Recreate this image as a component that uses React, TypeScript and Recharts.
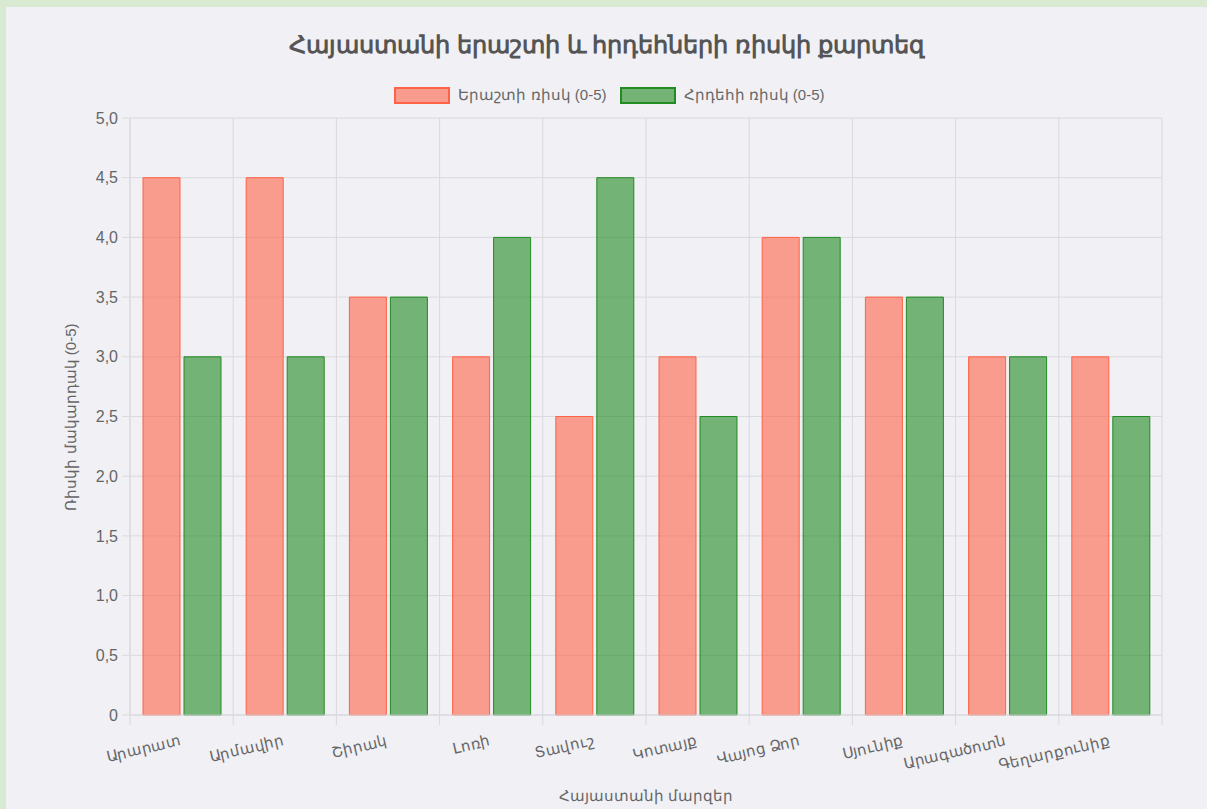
import React from "react";
import { BarChart, Bar, XAxis, YAxis, CartesianGrid } from "recharts";

const regions = ["Արարատ", "Արմավիր", "Շիրակ", "Լոռի", "Տավուշ", "Կոտայք", "Վայոց Ձոր", "Սյունիք", "Արագածոտն", "Գեղարքունիք"];
const droughtRisk = [4.5, 4.5, 3.5, 3, 2.5, 3, 4, 3.5, 3, 3];
const fireRisk = [3, 3, 3.5, 4, 4.5, 2.5, 4, 3.5, 3, 2.5];
const yTicks = [0, 0.5, 1, 1.5, 2, 2.5, 3, 3.5, 4, 4.5, 5];

const TITLE = "Հայաստանի երաշտի և հրդեհների ռիսկի քարտեզ";
const DROUGHT_LABEL = "Երաշտի ռիսկ (0-5)";
const FIRE_LABEL = "Հրդեհի ռիսկ (0-5)";
const Y_TITLE = "Ռիսկի մակարդակ (0-5)";
const X_TITLE = "Հայաստանի մարզեր";

const data = regions.map((name, i) => ({ name, drought: droughtRisk[i], fire: fireRisk[i] }));

const FONT = '"Helvetica Neue", Helvetica, Arial, sans-serif';
const GRID = "#d9d9de";
const TEXT = "#666";
const RED_FILL = "rgba(255,99,71,0.6)";
const RED_LINE = "rgb(255,99,71)";
const GREEN_FILL = "rgba(34,139,34,0.6)";
const GREEN_LINE = "rgb(34,139,34)";

const W = 1207;
const H = 809;
const M_LEFT = 70;
const Y_W = 60;
const M_RIGHT = 45;
const M_TOP = 118;
const X_H = 94;
const PLOT_W = W - M_LEFT - Y_W - M_RIGHT;
const BAND = PLOT_W / regions.length;

const fmt = (v: number) => (v === 0 ? "0" : v.toFixed(1).replace(".", ","));

const XTick = (props: any) => {
  const { x, y, payload, index } = props;
  const ty = y + 30;
  return (
    <g>
      <line x1={x - BAND / 2} x2={x - BAND / 2} y1={y} y2={y + 10} stroke={GRID} />
      {index === regions.length - 1 && (
        <line x1={x + BAND / 2} x2={x + BAND / 2} y1={y} y2={y + 10} stroke={GRID} />
      )}
      <text
        x={x}
        y={ty}
        transform={`rotate(-13, ${x}, ${ty})`}
        textAnchor="end"
        fill={TEXT}
        fontSize={15}
        fontFamily={FONT}
      >
        {payload.value}
      </text>
    </g>
  );
};

const LegendItem = ({ fill, stroke, label, gap }: { fill: string; stroke: string; label: string; gap: number }) => (
  <div style={{ display: "flex", alignItems: "center", marginRight: gap }}>
    <div style={{ width: 52, height: 13, background: fill, border: `2px solid ${stroke}`, marginRight: 8 }} />
    <span style={{ fontSize: 15, color: TEXT, fontFamily: FONT, whiteSpace: "nowrap" }}>{label}</span>
  </div>
);

export default function App() {
  return (
    <div style={{ position: "absolute", left: 0, top: 0, width: W, height: H, background: "#d9ead3", overflow: "hidden" }}>
      <div style={{ position: "absolute", left: 6, top: 7, width: W - 6, height: H - 7, background: "#f0f0f5" }} />
      <div
        style={{
          position: "absolute",
          left: 6,
          width: W - 6,
          top: 30,
          textAlign: "center",
          fontFamily: FONT,
          fontWeight: "bold",
          fontSize: 24,
          color: "#555",
          lineHeight: "30px",
        }}
      >
        {TITLE}
      </div>
      <div style={{ position: "absolute", left: 0, width: 1219, top: 86, display: "flex", justifyContent: "center" }}>
        <LegendItem fill={RED_FILL} stroke={RED_LINE} label={DROUGHT_LABEL} gap={13} />
        <LegendItem fill={GREEN_FILL} stroke={GREEN_LINE} label={FIRE_LABEL} gap={0} />
      </div>
      <div
        style={{
          position: "absolute",
          left: 71,
          top: 417,
          transform: "translate(-50%, -50%) rotate(-90deg)",
          fontSize: 15,
          color: TEXT,
          fontFamily: FONT,
          whiteSpace: "nowrap",
        }}
      >
        {Y_TITLE}
      </div>
      <div
        style={{
          position: "absolute",
          left: 646,
          top: 796,
          transform: "translate(-50%, -50%)",
          fontSize: 15,
          color: TEXT,
          fontFamily: FONT,
          whiteSpace: "nowrap",
        }}
      >
        {X_TITLE}
      </div>
      <div style={{ position: "absolute", left: 0, top: 0 }}>
        <BarChart
          width={W}
          height={H}
          data={data}
          margin={{ top: M_TOP, right: M_RIGHT, bottom: 0, left: M_LEFT }}
          barSize={37}
          barGap={4}
        >
          <CartesianGrid
            stroke={GRID}
            verticalCoordinatesGenerator={({ offset }: any) =>
              Array.from({ length: regions.length + 1 }, (_, i) => offset.left + (i * offset.width) / regions.length)
            }
          />
          <XAxis
            dataKey="name"
            height={X_H}
            interval={0}
            tickLine={false}
            tickSize={0}
            tickMargin={0}
            axisLine={{ stroke: GRID }}
            tick={<XTick />}
          />
          <YAxis
            width={Y_W}
            domain={[0, 5]}
            ticks={yTicks}
            interval={0}
            tickFormatter={fmt}
            tickSize={8}
            tickMargin={4}
            tickLine={{ stroke: GRID }}
            axisLine={{ stroke: GRID }}
            tick={{ fill: TEXT, fontSize: 16, fontFamily: FONT }}
          />
          <Bar dataKey="drought" fill={RED_FILL} stroke={RED_LINE} strokeWidth={1} isAnimationActive={false} />
          <Bar dataKey="fire" fill={GREEN_FILL} stroke={GREEN_LINE} strokeWidth={1} isAnimationActive={false} />
        </BarChart>
      </div>
    </div>
  );
}
